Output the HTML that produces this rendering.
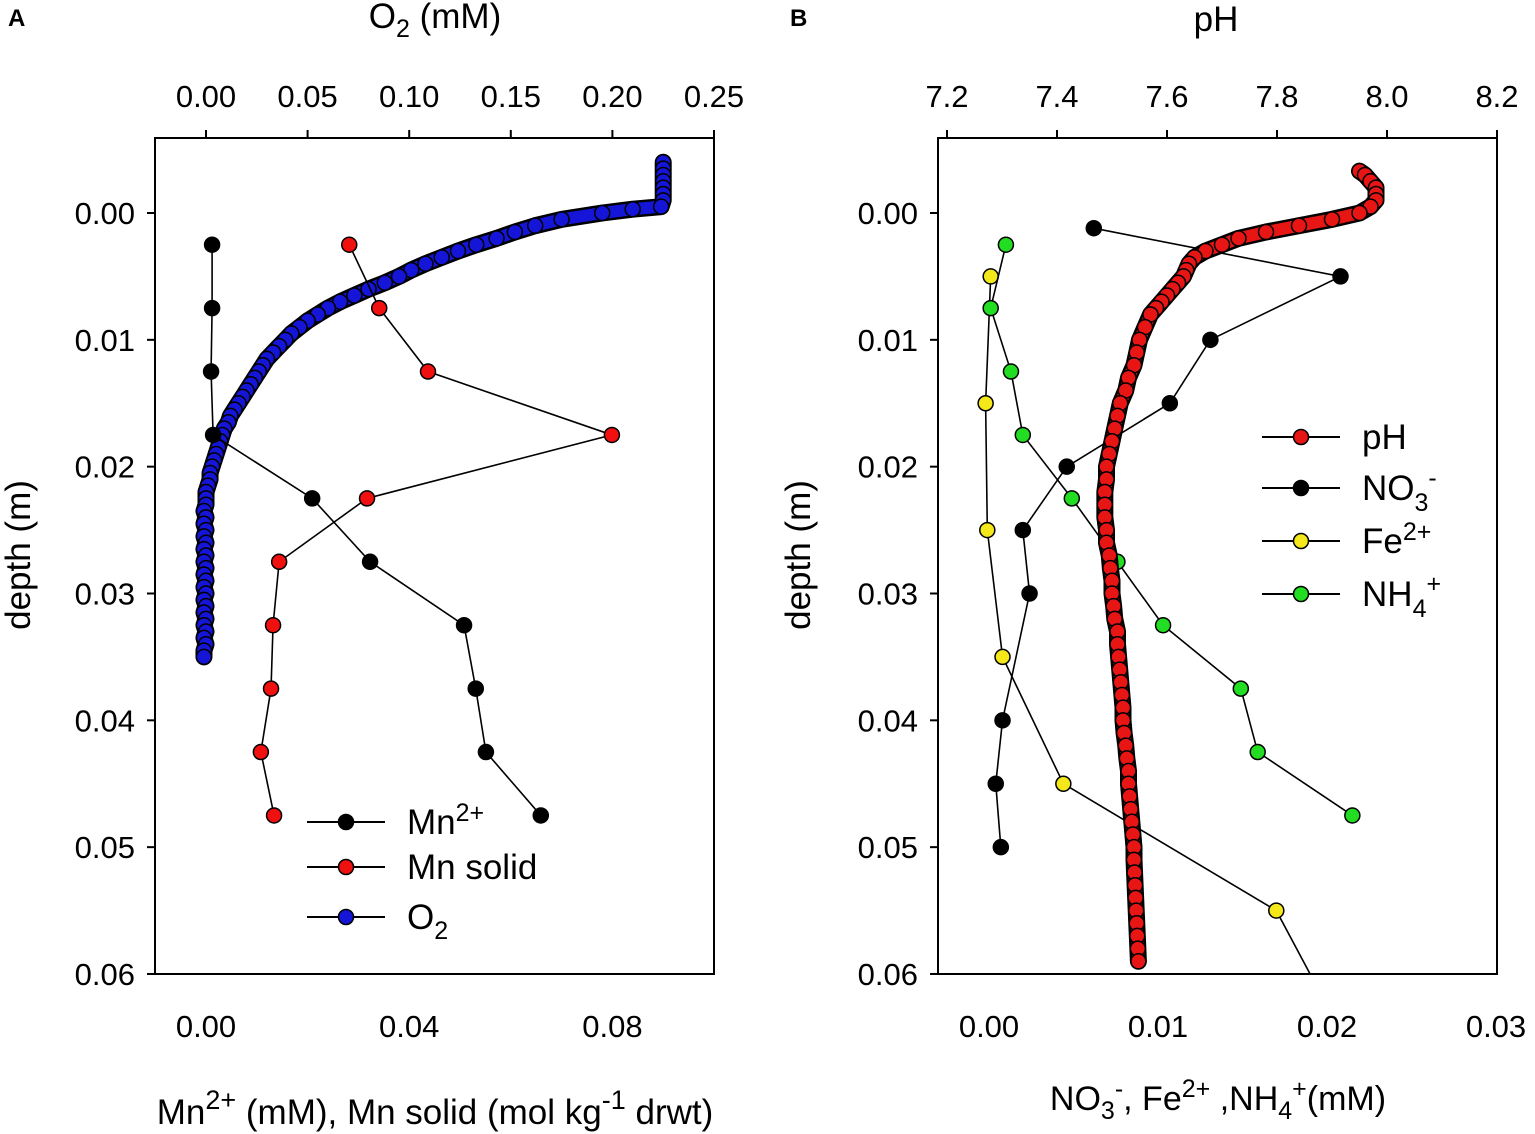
<!DOCTYPE html>
<html><head><meta charset="utf-8"><style>
body{margin:0;background:#fff}
svg{display:block;font-family:"Liberation Sans",Arial,sans-serif}
</style></head><body>
<svg id="c" width="1535" height="1134" viewBox="0 0 1535 1134"></svg>
<script>
// ---- Panel A data ----
const mnDepth=[0.0025,0.0075,0.0125,0.0175,0.0225,0.0275,0.0325,0.0375,0.0425,0.0475];
const mn2=[0.0012,0.0012,0.001,0.0014,0.0209,0.0323,0.0508,0.0531,0.0551,0.0659];
const mnSolid=[0.0282,0.0341,0.0437,0.0799,0.0317,0.0144,0.0132,0.0128,0.0108,0.0134];
const o2Depth=[-0.004,-0.0035,-0.003,-0.0025,-0.002,-0.0015,-0.001,-0.0005,-0.0003,0,0.0005,0.001,0.0015,0.002,0.0025,0.003,0.0035,0.004,0.0045,0.005,0.0055,0.006,0.0065,0.007,0.0075,0.008,0.0085,0.009,0.0095,0.01,0.0105,0.011,0.0115,0.012,0.0125,0.013,0.0135,0.014,0.0145,0.015,0.0155,0.016,0.0165,0.017,0.0175,0.018,0.0185,0.019,0.0195,0.02,0.0205,0.021,0.0215,0.022,0.0225,0.023,0.0235,0.024,0.0245,0.025,0.0255,0.026,0.0265,0.027,0.0275,0.028,0.0285,0.029,0.0295,0.03,0.0305,0.031,0.0315,0.032,0.0325,0.033,0.0335,0.034,0.0345,0.035];
const o2=[0.225,0.225,0.225,0.225,0.225,0.225,0.225,0.224,0.21,0.195,0.175,0.162,0.152,0.143,0.133,0.124,0.116,0.108,0.101,0.095,0.088,0.08,0.073,0.066,0.06,0.055,0.05,0.046,0.042,0.039,0.036,0.033,0.03,0.028,0.026,0.024,0.022,0.02,0.018,0.016,0.014,0.012,0.011,0.009,0.008,0.007,0.006,0.005,0.004,0.003,0.002,0.002,0.001,0,0,0,-0.001,0,-0.001,0,-0.001,0,-0.001,0,-0.001,0,-0.001,0,-0.001,0,-0.001,0,-0.001,0,-0.001,0,-0.001,0,-0.001,-0.001];
const aBottomTicks=[0,0.04,0.08];
const aTopTicks=[0,0.05,0.1,0.15,0.2,0.25];
const depthTicks=[0,0.01,0.02,0.03,0.04,0.05,0.06];
// ---- Panel B data ----
const phDepth=[-0.0033,-0.003,-0.0025,-0.002,-0.0015,-0.001,-0.0005,0,0.0005,0.001,0.0015,0.002,0.0025,0.003,0.0035,0.004,0.0045,0.005,0.0055,0.006,0.0065,0.007,0.0075,0.008,0.009,0.01,0.011,0.012,0.013,0.014,0.015,0.016,0.017,0.018,0.019,0.02,0.021,0.022,0.023,0.024,0.025,0.026,0.027,0.028,0.029,0.03,0.031,0.032,0.033,0.034,0.035,0.036,0.037,0.038,0.039,0.04,0.041,0.042,0.043,0.044,0.045,0.046,0.047,0.048,0.049,0.05,0.051,0.052,0.053,0.054,0.055,0.056,0.057,0.058,0.059];
const ph=[7.95,7.96,7.97,7.98,7.98,7.98,7.97,7.95,7.9,7.84,7.78,7.73,7.7,7.67,7.65,7.64,7.635,7.63,7.62,7.61,7.6,7.59,7.58,7.57,7.56,7.55,7.545,7.54,7.53,7.525,7.515,7.51,7.505,7.5,7.495,7.49,7.49,7.487,7.487,7.487,7.49,7.49,7.495,7.497,7.5,7.5,7.503,7.505,7.51,7.51,7.512,7.514,7.516,7.518,7.52,7.52,7.522,7.525,7.527,7.53,7.53,7.532,7.534,7.536,7.538,7.54,7.54,7.541,7.542,7.543,7.544,7.545,7.546,7.547,7.548];
const no3Depth=[0.0012,0.005,0.01,0.015,0.02,0.025,0.03,0.04,0.045,0.05];
const no3=[0.0062,0.0208,0.0131,0.0107,0.0046,0.002,0.0024,0.0008,0.0004,0.0007];
const feDepth=[0.005,0.015,0.025,0.035,0.045,0.055,0.065];
const fe=[0.0001,-0.0002,-0.0001,0.0008,0.0044,0.017,0.021];
const nhDepth=[0.0025,0.0075,0.0125,0.0175,0.0225,0.0275,0.0325,0.0375,0.0425,0.0475];
const nh4=[0.001,0.0001,0.0013,0.002,0.0049,0.0076,0.0103,0.0149,0.0159,0.0215];
const bBottomTicks=[0,0.01,0.02,0.03];
const bTopTicks=[7.2,7.4,7.6,7.8,8.0,8.2];

const NS='http://www.w3.org/2000/svg';
const svg=document.getElementById('c');
function el(t,a,p){const e=document.createElementNS(NS,t);for(const k in a)e.setAttribute(k,a[k]);(p||svg).appendChild(e);return e;}
const pTop=138,pBot=974;
const yD=d=>213+d*12683;
const xA=v=>206+v*5080;
const xAtop=v=>206+v*2032;
const xB=v=>989+v*16900;
const xBtop=v=>1497-(8.2-v)*550;
const TICK=31;

function frame(x0,x1,name){
  const g=el('g',{});
  
  
  el('rect',{x:x0,y:pTop,width:x1-x0,height:pBot-pTop,fill:'none',stroke:'#000','stroke-width':2},g);
  depthTicks.forEach(d=>{
    el('line',{x1:x0-8,x2:x0,y1:yD(d),y2:yD(d),stroke:'#000','stroke-width':2},g);
    const t=el('text',{x:x0-20,y:yD(d)+11,'text-anchor':'end','font-size':TICK},g);
    t.textContent=d.toFixed(2);
    
    
  });
  return g;
}
function clipFor(x0,x1,id){const c=el('clipPath',{id:id});el('rect',{x:x0,y:pTop,width:x1-x0,height:pBot-pTop},c);}
function series(xs,ds,sc,fill,name,clip,band){
  const g=el('g',{'clip-path':'url(#'+clip+')'});
  
  
  const pts=xs.map((v,i)=>sc(v)+','+yD(ds[i])).join(' ');
  if(band){
    el('polyline',{points:pts,fill:'none',stroke:'#000','stroke-width':17,'stroke-linejoin':'round','stroke-linecap':'round'},g);
    el('polyline',{points:pts,fill:'none',stroke:fill,'stroke-width':12,'stroke-linejoin':'round','stroke-linecap':'round'},g);
  } else {
    el('polyline',{points:pts,fill:'none',stroke:'#000','stroke-width':1.6},g);
  }
  xs.forEach((v,i)=>{const c=el('circle',{cx:sc(v),cy:yD(ds[i]),r:7.5,fill:fill,stroke:'#000','stroke-width':1.5},g);
    
    });
}
function txt(x,y,s,size,attrs){const t=el('text',Object.assign({x:x,y:y,'font-size':size},attrs||{}));t.innerHTML=s;return t;}
function legend(x,y,fill,label,name){
  const g=el('g',{});
  
  
  el('line',{x1:x,x2:x+78,y1:y,y2:y,stroke:'#000','stroke-width':2},g);
  el('circle',{cx:x+39,cy:y,r:7.5,fill:fill,stroke:'#000','stroke-width':1.5},g);
  const t=el('text',{x:x+100,y:y+12,'font-size':35},g);t.innerHTML=label;
}

// ===== Panel A =====
clipFor(155,714,'ca');
frame(155,714,'panel-a-axes');
aBottomTicks.forEach(v=>{const t=txt(xA(v),1037,v.toFixed(2),TICK,{'text-anchor':'middle'});
  });
aTopTicks.forEach(v=>{el('line',{x1:xAtop(v),x2:xAtop(v),y1:pTop-8,y2:pTop,stroke:'#000','stroke-width':2});
  const t=txt(xAtop(v),107,v.toFixed(2),TICK,{'text-anchor':'middle'});
  });
series(o2,o2Depth,xAtop,'#1515d8','o2-series','ca',true);
series(mn2,mnDepth,xA,'#000','mn2-series','ca');
series(mnSolid,mnDepth,xA,'#f01010','mn-solid-series','ca');
legend(307,822,'#000','Mn<tspan dy="-13" font-size="25">2+</tspan>','legend-mn2');
legend(307,867,'#f01010','Mn solid','legend-mn-solid');
legend(307,917,'#1515d8','O<tspan dy="10" font-size="25">2</tspan>','legend-o2');
let t;
t=txt(435,1124,'Mn<tspan dy="-15" font-size="27">2+</tspan><tspan dy="15"> (mM), Mn solid (mol kg</tspan><tspan dy="-15" font-size="27">-1</tspan><tspan dy="15"> drwt)</tspan>',35,{'text-anchor':'middle'});

t=txt(435,28,'O<tspan dy="9" font-size="25">2</tspan><tspan dy="-9"> (mM)</tspan>',35,{'text-anchor':'middle'});

t=txt(30,555,'depth (m)',35,{'text-anchor':'middle',transform:'rotate(-90 30 555)'});

t=txt(8,26,'A',24,{'font-weight':'bold'});


// ===== Panel B =====
clipFor(938,1497,'cb');
frame(938,1497,'panel-b-axes');
bBottomTicks.forEach(v=>{const t=txt(xB(v),1037,v.toFixed(2),TICK,{'text-anchor':'middle'});
  });
bTopTicks.forEach(v=>{el('line',{x1:xBtop(v),x2:xBtop(v),y1:pTop-8,y2:pTop,stroke:'#000','stroke-width':2});
  const t=txt(xBtop(v),107,v.toFixed(1),TICK,{'text-anchor':'middle'});
  });
series(fe,feDepth,xB,'#f5e81a','fe2-series','cb');
series(nh4,nhDepth,xB,'#22dd22','nh4-series','cb');
series(no3,no3Depth,xB,'#000','no3-series','cb');
series(ph,phDepth,xBtop,'#e81515','ph-series','cb',true);
legend(1262,437,'#e81515','pH','legend-ph');
legend(1262,488,'#000','NO<tspan dy="11" font-size="25">3</tspan><tspan dy="-25" font-size="25">-</tspan>','legend-no3');
legend(1262,541,'#f5e81a','Fe<tspan dy="-13" font-size="25">2+</tspan>','legend-fe2');
legend(1262,594,'#22dd22','NH<tspan dy="11" font-size="25">4</tspan><tspan dy="-25" font-size="25">+</tspan>','legend-nh4');
t=txt(1218,1110,'NO<tspan dy="9" font-size="25">3</tspan><tspan dy="-22" font-size="25">-</tspan><tspan dy="13">, Fe</tspan><tspan dy="-13" font-size="25">2+</tspan><tspan dy="13"> ,NH</tspan><tspan dy="9" font-size="25">4</tspan><tspan dy="-22" font-size="25">+</tspan><tspan dy="13">(mM)</tspan>',34,{'text-anchor':'middle'});

t=txt(1216,31,'pH',35,{'text-anchor':'middle'});

t=txt(810,555,'depth (m)',35,{'text-anchor':'middle',transform:'rotate(-90 810 555)'});

t=txt(790,26,'B',24,{'font-weight':'bold'});

</script>
</body></html>
